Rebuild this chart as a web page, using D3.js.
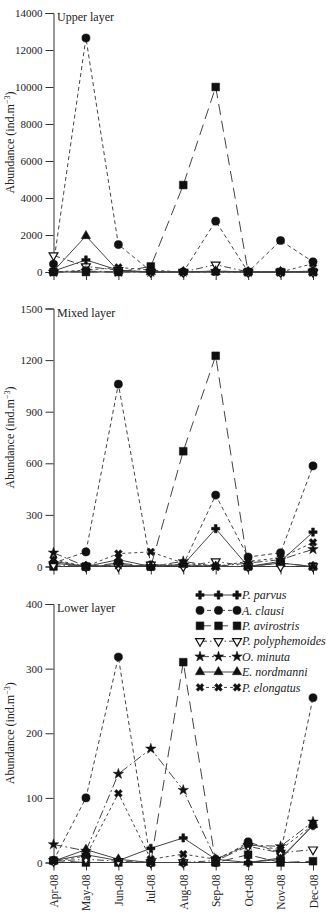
<!DOCTYPE html>
<html lang="en">
<head>
  <meta charset="UTF-8">
  <title>Abundance by layer</title>
  <script src="https://cdn.jsdelivr.net/npm/d3@7/dist/d3.min.js"></script>
  <style>
    body { margin: 0; background: #fff; }
    text { font-family: "Liberation Serif", "DejaVu Serif", serif; fill: #222; }
  </style>
</head>
<body>
  <svg></svg>
  <script>
    const width = 329, height = 922;

    const months = ["Apr-08", "May-08", "Jun-08", "Jul-08", "Aug-08", "Sep-08", "Oct-08", "Nov-08", "Dec-08"];
    const species = ["P. parvus", "A. clausi", "P. avirostris", "P. polyphemoides", "O. minuta", "E. nordmanni", "P. elongatus"];

    // rows follow the species order
    const upperLayer = [
      [50, 650, 100, 0, 0, 50, 0, 0, 50],
      [430, 12650, 1480, 50, 0, 2750, 0, 1700, 550],
      [0, 0, 0, 300, 4700, 10000, 0, 0, 0],
      [900, 300, 100, 0, 0, 400, 0, 0, 0],
      [0, 50, 0, 0, 0, 50, 0, 0, 0],
      [50, 1950, 50, 0, 0, 0, 0, 0, 0],
      [0, 100, 250, 100, 0, 0, 0, 0, 450]
    ];
    const mixedLayer = [
      [20, 0, 10, 0, 10, 220, 0, 30, 200],
      [20, 85, 1060, 10, 10, 415, 55, 80, 585],
      [0, 0, 20, 0, 670, 1225, 0, 20, 0],
      [10, 0, 0, 10, 0, 30, 0, 0, 0],
      [80, 0, 10, 0, 30, 0, 20, 40, 100],
      [30, 0, 40, 0, 10, 0, 0, 20, 0],
      [40, 0, 75, 85, 20, 0, 30, 50, 140]
    ];
    const lowerLayer = [
      [3, 12, 3, 22, 38, 5, 0, 7, 57],
      [3, 100, 318, 0, 0, 0, 32, 15, 255],
      [3, 0, 0, 0, 310, 0, 12, 0, 2],
      [2, 5, 2, 0, 0, 3, 25, 15, 20],
      [28, 18, 137, 176, 112, 5, 27, 25, 63],
      [2, 20, 5, 0, 0, 0, 0, 5, 58],
      [2, 10, 107, 5, 13, 5, 28, 20, 58]
    ];

    const upperTicks = [0, 2000, 4000, 6000, 8000, 10000, 12000, 14000];
    const mixedTicks = [0, 300, 600, 900, 1200, 1500];
    const lowerTicks = [0, 100, 200, 300, 400];

    const panels = [
      { name: "Upper layer", rows: upperLayer, ticks: upperTicks, top: 13, bottom: 272 },
      { name: "Mixed layer", rows: mixedLayer, ticks: mixedTicks, top: 308.5, bottom: 566.5 },
      { name: "Lower layer", rows: lowerLayer, ticks: lowerTicks, top: 604, bottom: 862.5, legend: true }
    ];

    // marker + dash style per species
    const styles = [
      { sym: d3.symbolCross, size: 38, rot: 0, fill: "#111", dash: null },
      { sym: d3.symbolCircle, size: 52, rot: 0, fill: "#111", dash: "4,3" },
      { sym: d3.symbolSquare, size: 60, rot: 0, fill: "#111", dash: "11,6" },
      { sym: d3.symbolTriangle, size: 34, rot: 180, fill: "#fff", dash: "7,3,1.5,3" },
      { sym: d3.symbolStar, size: 34, rot: 0, fill: "#111", dash: "9,3,2,3" },
      { sym: d3.symbolTriangle, size: 38, rot: 0, fill: "#111", dash: null },
      { sym: d3.symbolCross, size: 38, rot: 45, fill: "#111", dash: "3,3" }
    ];

    const svg = d3.select("svg").attr("width", width).attr("height", height);

    const x = d3.scalePoint().domain(months).range([53.5, 313]);

    function drawMarker(g, s, cx, cy) {
      g.append("path")
        .attr("d", d3.symbol().type(s.sym).size(s.size)())
        .attr("transform", `translate(${cx},${cy}) rotate(${s.rot})`)
        .attr("fill", s.fill)
        .attr("stroke", "#111")
        .attr("stroke-width", s.fill === "#fff" ? 1.2 : 0.5);
    }

    panels.forEach((p, pi) => {
      const y = d3.scaleLinear()
        .domain([0, d3.max(p.ticks)])
        .range([p.bottom, p.top]);
      const g = svg.append("g");

      // y axis
      const yAxis = g.append("g")
        .attr("transform", `translate(${x(months[0])},0)`)
        .call(d3.axisLeft(y).tickValues(p.ticks).tickSize(8).tickPadding(3).tickFormat(d3.format("d")));
      yAxis.selectAll("text").style("font-size", "11px");

      // x axis
      const xAxis = g.append("g")
        .attr("transform", `translate(0,${p.bottom})`)
        .call(d3.axisBottom(x).tickSize(8).tickFormat(""));
      xAxis.select(".domain").attr("d", `M${x(months[0])},0H${x(months[months.length - 1])}`);
      g.selectAll(".domain, .tick line").attr("stroke", "#333").attr("stroke-width", 1);

      if (pi === 2) {
        xAxis.selectAll(".tick").append("text")
          .attr("transform", "rotate(-90)")
          .attr("x", -12)
          .attr("dy", "0.35em")
          .attr("text-anchor", "end")
          .attr("fill", "#222")
          .style("font-size", "11.5px")
          .text(d => d);
      }

      // panel label
      g.append("text")
        .attr("x", 57)
        .attr("y", p.top + 8)
        .style("font-size", "12px")
        .text(p.name);

      // y title
      const t = g.append("text")
        .attr("transform", `translate(14,${(p.top + p.bottom) / 2}) rotate(-90)`)
        .attr("text-anchor", "middle")
        .style("font-size", "12px");
      t.append("tspan").text("Abundance (ind.m");
      t.append("tspan").attr("dy", -4).style("font-size", "8px").text("−3");
      t.append("tspan").attr("dy", 4).text(")");

      const line = d3.line()
        .x((d, i) => x(months[i]))
        .y(d => y(d));

      p.rows.forEach((row, si) => {
        const s = styles[si];
        g.append("path")
          .attr("d", line(row))
          .attr("fill", "none")
          .attr("stroke", "#444")
          .attr("stroke-width", 1)
          .attr("stroke-dasharray", s.dash);
      });
      p.rows.forEach((row, si) => {
        row.forEach((v, i) => drawMarker(g, styles[si], x(months[i]), y(v)));
      });

      if (p.legend) {
        const lg = g.append("g");
        species.forEach((name, si) => {
          const s = styles[si];
          const ly = 595 + si * 15.4;
          lg.append("line")
            .attr("x1", 200).attr("x2", 237)
            .attr("y1", ly).attr("y2", ly)
            .attr("stroke", "#444")
            .attr("stroke-width", 1)
            .attr("stroke-dasharray", s.dash);
          [200, 218.5, 237].forEach(cx => drawMarker(lg, s, cx, ly));
          lg.append("text")
            .attr("x", 242)
            .attr("y", ly)
            .attr("dy", "0.35em")
            .style("font-size", "12px")
            .style("font-style", "italic")
            .text(name);
        });
      }
    });
  </script>
</body>
</html>
